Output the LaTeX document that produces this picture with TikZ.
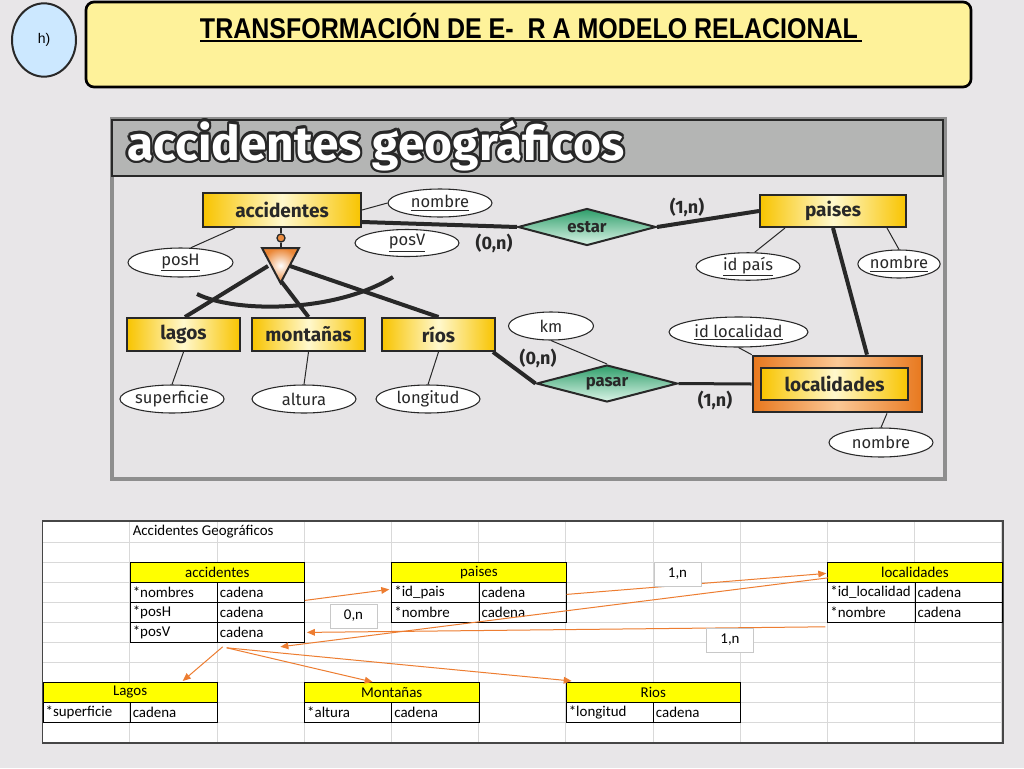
\documentclass[tikz,border=0pt]{standalone}
\usepackage{fontspec}
\usepackage{graphicx}
\setmainfont{Carlito}
\newfontfamily\erfont{Fira Sans}
\newfontfamily\hdfont{Liberation Sans}
\usetikzlibrary{shapes.geometric,arrows.meta,calc}
\definecolor{pagebg}{RGB}{232,230,232}
\definecolor{titlebox}{RGB}{254,242,154}
\definecolor{hbubble}{RGB}{204,232,255}
\definecolor{erbg}{RGB}{230,228,230}
\definecolor{erframe}{RGB}{142,142,142}
\definecolor{band}{RGB}{180,181,180}
\definecolor{dark}{RGB}{40,40,40}
\definecolor{gold}{RGB}{248,196,0}
\definecolor{paleyellow}{RGB}{255,248,205}
\definecolor{orangeA}{RGB}{232,120,30}
\definecolor{orangeB}{RGB}{250,200,150}
\definecolor{greenA}{RGB}{46,158,106}
\definecolor{greenB}{RGB}{220,245,232}
\definecolor{xlorange}{RGB}{237,125,49}
\definecolor{gridgray}{RGB}{217,217,217}
\definecolor{xlyellow}{RGB}{255,255,0}
\definecolor{lblgray}{RGB}{200,200,200}
\definecolor{sheetborder}{RGB}{70,70,70}
\newcommand{\ertitletext}{\resizebox{372.75pt}{!}{\erfont\bfseries accidentes geográficos}}
\begin{document}
\begin{tikzpicture}[x=0.75pt,y=-0.75pt,
  ent/.style={draw=dark, line width=1.5pt, left color=gold, right color=gold, middle color=paleyellow,
    font=\erfont\bfseries\fontsize{14.3}{16}\selectfont, text=dark, inner sep=0pt},
  attr/.style={ellipse, draw=dark, line width=0.8pt, fill=white, inner sep=0pt,
    font=\erfont\fontsize{12.4}{14}\selectfont, text=dark},
  rel/.style={diamond, aspect=3.5, draw=dark, line width=1.5pt, top color=greenA, bottom color=greenB,
    inner sep=0pt, font=\erfont\bfseries\fontsize{12.5}{14}\selectfont, text=dark},
  thickl/.style={draw=dark, line width=3pt},
  thinl/.style={draw=dark, line width=0.75pt},
  card/.style={font=\erfont\bfseries\fontsize{13.5}{15}\selectfont, text=dark, inner sep=0pt},
  cell/.style={draw=black, line width=0.6pt, anchor=north west, minimum height=15pt, text width=61.4pt,
    inner xsep=2pt, inner ysep=0pt, align=left, font=\fontsize{11.2}{13}\selectfont},
  hdr/.style={draw=black, line width=0.6pt, fill=xlyellow, anchor=north west, minimum width=130.8pt,
    minimum height=15pt, inner sep=0pt, font=\fontsize{11.2}{13}\selectfont},
  lbl/.style={draw=lblgray, line width=0.6pt, fill=white, minimum width=35.25pt, minimum height=18pt,
    inner sep=0pt, font=\fontsize{11.2}{13}\selectfont},
  xarr/.style={draw=xlorange, line width=0.75pt, -{Triangle[length=6pt,width=5pt]}}
]
\useasboundingbox (0,0) rectangle (1024,768);
\fill[pagebg] (0,0) rectangle (1024,768);

% ---------- header ----------
\node[ellipse, draw=dark, line width=1.5pt, fill=hbubble, minimum width=48pt, minimum height=55pt,
  font=\hdfont\fontsize{10.5}{12}\selectfont] (hbub) at (44,40) {h)};
\draw[black, line width=2pt, fill=titlebox, rounded corners=6pt] (86,2) rectangle (971,87);
\node[inner sep=0pt] (maintitle) at (529,25.5)
  {\resizebox{493.5pt}{19pt}{\hdfont\bfseries TRANSFORMACIÓN DE E- \ R A MODELO RELACIONAL}};
\draw[black, line width=2pt] (200,41) -- (862,41);

% ---------- ER diagram frame ----------
\draw[erframe, line width=3pt, fill=erbg] (112,119) rectangle (945,479);
\draw[dark, line width=2pt, fill=band] (112,120) rectangle (943,176);
\foreach \a in {0,30,...,330}
  \node[anchor=base west, text=dark, inner sep=0pt] at ($(127,160)+(\a:2.4)$) {\ertitletext};
\node[anchor=base west, text=white, inner sep=0pt] (ertitle) at (127,160) {\ertitletext};

% ---------- entities ----------
\node[ent, minimum width=118.5pt, minimum height=25.5pt] (acc) at (282,210) {accidentes};
\node[ent, minimum width=109.5pt, minimum height=24pt] (pai) at (833,211) {paises};
\node[ent, minimum width=84.75pt, minimum height=24.75pt] (lag) at (183.5,334.5) {lagos};
\node[ent, minimum width=84.75pt, minimum height=24.75pt] (mon) at (308.5,334.5) {montañas};
\node[ent, minimum width=84.75pt, minimum height=24.75pt] (rio) at (438.5,334.5) {ríos};
\node[draw=dark, line width=2pt, left color=orangeA, right color=orangeA, middle color=orangeB,
  minimum width=126.75pt, minimum height=42pt, inner sep=0pt] (locout) at (837.5,384) {};
\node[ent, minimum width=110.25pt, minimum height=24pt] (loc) at (834.5,384) {localidades};

% ---------- attributes ----------
\node[attr, minimum width=78pt, minimum height=21pt] (nom1) at (440,203) {\underline{nombre}};
\node[attr, minimum width=78pt, minimum height=20.25pt] (posv) at (407,243) {\underline{posV}};
\node[attr, minimum width=78.75pt, minimum height=21.75pt] (posh) at (180.5,262.5) {\underline{posH}};
\node[attr, minimum width=78pt, minimum height=20.25pt] (idpais) at (748,266.5) {\underline{id país}};
\node[attr, minimum width=54pt, minimum height=21pt] (nom2) at (899,264) {\underline{nombre}};
\node[attr, minimum width=78pt, minimum height=21pt] (sup) at (172,399) {superficie};
\node[attr, minimum width=78pt, minimum height=21pt] (alt) at (304,399) {altura};
\node[attr, minimum width=78pt, minimum height=21pt] (lon) at (428,399) {longitud};
\node[attr, minimum width=63.75pt, minimum height=21pt] (km) at (551,326) {km};
\node[attr, minimum width=104.25pt, minimum height=22.5pt] (idloc) at (738.5,332) {\underline{id localidad}};
\node[attr, minimum width=78pt, minimum height=21.75pt] (nom3) at (881,442.5) {nombre};

% ---------- relationships ----------
\node[rel, minimum width=103.5pt, minimum height=27.75pt] (estar) at (587,227) {estar};
\node[rel, minimum width=105.75pt, minimum height=27.75pt] (pasar) at (607,383.5) {pasar};

% ---------- connectors ----------
\draw[thinl] (acc.east) -- (nom1.west);
\draw[thinl] ($(acc.south west)+(33,0)$) -- (posh.55);
\draw[thickl] ($(acc.east)+(0,12)$) -- (estar.west);
\draw[thickl] (estar.east) -- (pai.west);
\draw[thinl] ($(pai.south west)+(26,0)$) -- (idpais.65);
\draw[thinl] ($(pai.south west)+(128,0)$) -- (nom2.north);
\draw[thickl] (pai.south) -- ($(locout.north)+(29.5,0)$);
\draw[thinl] (lag.south) -- (sup.north);
\draw[thinl] (mon.south) -- (alt.north);
\draw[thinl] (rio.south) -- (lon.north);
\draw[thickl] ($(rio.south east)+(-3,0)$) -- (pasar.west);
\draw[thinl] (km.south) -- (pasar.north);
\draw[draw=dark, line width=2.25pt] (pasar.east) -- (locout.west);
\draw[thinl] (idloc.south) -- (locout.north west);
\draw[thinl] ($(locout.south)+(49.5,0)$) -- (nom3.north);

% specialization
\coordinate (tA) at (262,248);
\coordinate (tB) at (299,248);
\coordinate (tC) at (280.5,283);
\coordinate (tL) at (268,266);
\coordinate (tM) at (281,281);
\coordinate (tR) at (290,266);
\draw[thickl] (tL) -- ($(lag.north)+(1.5,0)$);
\draw[thickl] (tM) -- (mon.north);
\draw[thickl] (tR) -- (rio.north);
\draw[thickl] (197,294) .. controls (235,313) and (335,313) .. (393,277);
\node[circle, draw=dark, line width=1pt, fill=orangeA!85, minimum size=6pt, inner sep=0pt] (isa) at (281,238) {};
\draw[draw=dark, line width=1.2pt] (acc.south -| isa) -- (isa.north);
\draw[draw=dark, line width=1.2pt] (isa.south) -- (281,248);
\draw[draw=dark, line width=1.5pt, inner color=white, outer color=orangeA!90] (tA) -- (tB) -- (tC) -- cycle;

% cardinalities
\node[card] (c1) at (494,243) {(0,n)};
\node[card] (c2) at (687,207) {(1,n)};
\node[card] (c3) at (538,358) {(0,n)};
\node[card] (c4) at (715,400) {(1,n)};

% ---------- spreadsheet ----------
\fill[white] (42.5,521) rectangle (1003,743);
\foreach \x in {129.7,216.9,304.1,391.3,478.5,565.7,652.9,740.1,827.3,914.5,1001.7}
  \draw[gridgray, line width=0.6pt] (\x,521) -- (\x,743);
\foreach \y in {542,562,...,722}
  \draw[gridgray, line width=0.6pt] (42.5,\y) -- (1003,\y);
\draw[sheetborder, line width=0.8pt] (42.5,521) rectangle (1003,743);

\node[anchor=west, inner sep=0pt, font=\fontsize{11.2}{13}\selectfont] (sheettitle) at (132.5,532) {Accidentes Geográficos};

% accidentes table
\node[hdr] (accH) at (129.7,562) {accidentes};
\node[cell] (accR1a) at (129.7,582) {*nombres};
\node[cell] (accR1b) at (216.9,582) {cadena};
\node[cell] (accR2a) at (129.7,602) {*posH};
\node[cell] (accR2b) at (216.9,602) {cadena};
\node[cell] (accR3a) at (129.7,622) {*posV};
\node[cell] (accR3b) at (216.9,622) {cadena};
% paises table
\node[hdr] (paiH) at (391.3,562) {paises};
\node[cell] (paiR1a) at (391.3,582) {*id\_pais};
\node[cell] (paiR1b) at (478.5,582) {cadena};
\node[cell] (paiR2a) at (391.3,602) {*nombre};
\node[cell] (paiR2b) at (478.5,602) {cadena};
% localidades table
\node[hdr] (locH) at (827.3,562) {localidades};
\node[cell] (locR1a) at (827.3,582) {*id\_localidad};
\node[cell] (locR1b) at (914.5,582) {cadena};
\node[cell] (locR2a) at (827.3,602) {*nombre};
\node[cell] (locR2b) at (914.5,602) {cadena};
% Lagos
\node[hdr] (lagH) at (42.5,682) {Lagos};
\node[cell] (lagR1a) at (42.5,702) {*superficie};
\node[cell] (lagR1b) at (129.7,702) {cadena};
% Montanas
\node[hdr] (monH) at (304.1,682) {Montañas};
\node[cell] (monR1a) at (304.1,702) {*altura};
\node[cell] (monR1b) at (391.3,702) {cadena};
% Rios
\node[hdr] (rioH) at (565.7,682) {Rios};
\node[cell] (rioR1a) at (565.7,702) {*longitud};
\node[cell] (rioR1b) at (652.9,702) {cadena};

% arrows
\draw[xarr] ($(accR1b.east)+(0,8)$) -- ($(paiR1a.west)+(-2,-3)$);
\draw[xarr] ($(paiR1b.east)+(0,2)$) -- ($(locH.west)+(-1,1)$);
\draw[xarr] ($(locH.south west)+(1,-5)$) -- ($(accR3b.south)+(19.5,4)$);
\draw[xarr] ($(locR2a.south west)+(-2,4)$) -- ($(accR3b.east)+(2,0)$);
\draw[xarr] ($(accR3a.south east)+(5,4)$) -- ($(lagH.north east)+(-35,-1)$);
\draw[xarr] ($(accR3a.south east)+(9,5)$) -- ($(monH.north)+(-19,0)$);
\draw[xarr] ($(accR3a.south east)+(9,5)$) -- ($(rioH.north west)+(6,-1)$);

% labels
\node[lbl] (l0n) at (353.5,616) {0,n};
\node[lbl] (l1n) at (677.5,574) {1,n};
\node[lbl] (l1nb) at (730,640) {1,n};
\end{tikzpicture}
\end{document}
